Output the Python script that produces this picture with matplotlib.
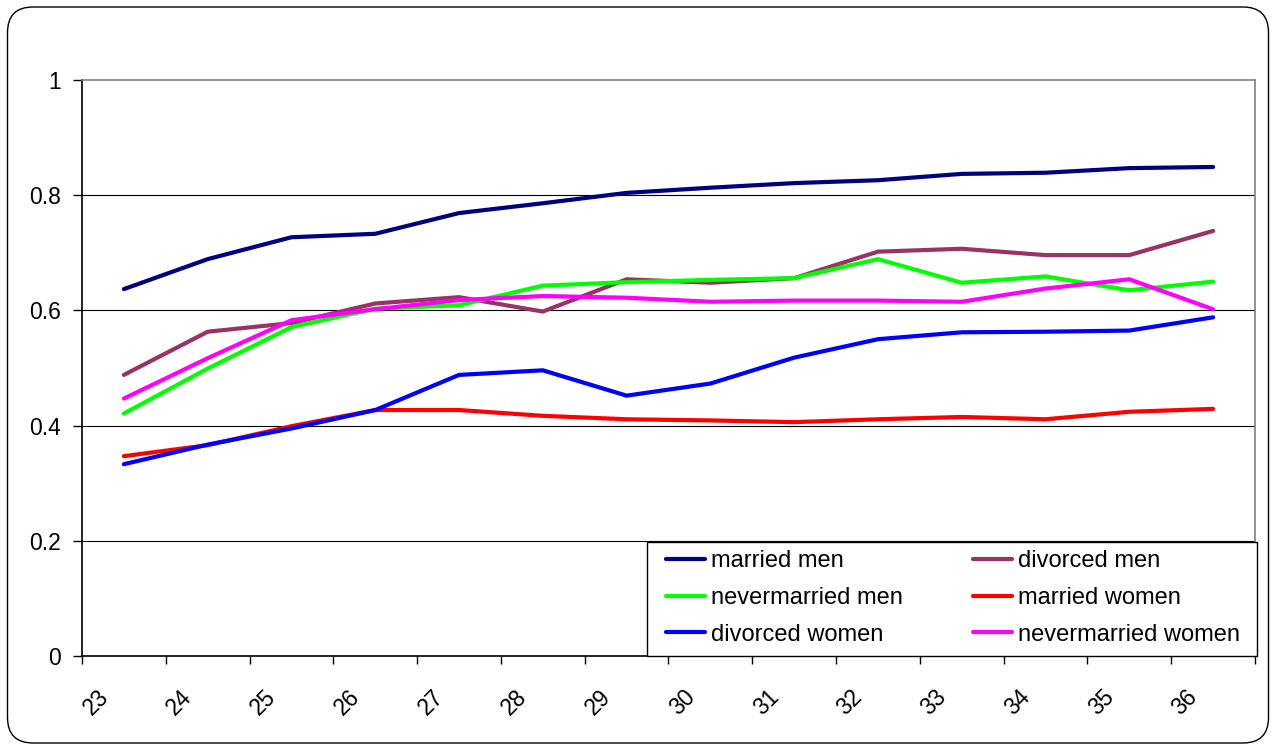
import numpy as np
import matplotlib
matplotlib.use("Agg")
import matplotlib.pyplot as plt
import matplotlib.transforms as mtransforms
from matplotlib.patches import FancyBboxPatch, Rectangle

plt.rcParams['font.family'] = ['Liberation Sans', 'DejaVu Sans']

# Возраст
ages = ['23', '24', '25', '26', '27', '28', '29', '30', '31', '32', '33', '34', '35', '36']

# Ряды данных
married_men = [0.637, 0.689, 0.727, 0.733, 0.769, 0.786, 0.804, 0.813, 0.821, 0.826, 0.837, 0.839, 0.847, 0.849]
divorced_men = [0.488, 0.563, 0.578, 0.612, 0.623, 0.598, 0.654, 0.648, 0.656, 0.702, 0.707, 0.696, 0.696, 0.738]
nevermarried_men = [0.421, 0.499, 0.571, 0.603, 0.609, 0.643, 0.649, 0.653, 0.656, 0.689, 0.648, 0.659, 0.635, 0.650]
married_women = [0.347, 0.366, 0.399, 0.427, 0.427, 0.417, 0.411, 0.409, 0.406, 0.411, 0.415, 0.411, 0.424, 0.429]
divorced_women = [0.333, 0.367, 0.395, 0.427, 0.488, 0.496, 0.452, 0.473, 0.518, 0.550, 0.562, 0.563, 0.565, 0.588]
nevermarried_women = [0.447, 0.517, 0.583, 0.602, 0.618, 0.625, 0.622, 0.615, 0.617, 0.617, 0.615, 0.638, 0.654, 0.602]

series = [
    ('married men', married_men, '#000080'),
    ('divorced men', divorced_men, '#993366'),
    ('nevermarried men', nevermarried_men, '#00FF00'),
    ('married women', married_women, '#FF0000'),
    ('divorced women', divorced_women, '#0000FF'),
    ('nevermarried women', nevermarried_women, '#FF00FF'),
]

W, H = 1279, 746
fig = plt.figure(figsize=(W / 100, H / 100), dpi=100)

# Скруглённая рамка вокруг всей диаграммы
frame = FancyBboxPatch((7.5 / W, 3 / H), 1261 / W, 736 / H,
                       boxstyle="round,pad=0,rounding_size=0.02",
                       transform=fig.transFigure, facecolor='none',
                       edgecolor='black', linewidth=1.0,
                       mutation_aspect=W / H)
fig.patches.append(frame)

ax = fig.add_axes([82 / W, (H - 656) / H, (1255 - 82) / W, (656 - 80) / H])
ax.set_facecolor('white')

x = np.arange(len(ages))
lines = {}
for name, vals, col in series:
    ln, = ax.plot(x, vals, color=col, lw=3, label=name, solid_capstyle='round')
    lines[name] = ln

ax.set_xlim(-0.5, len(ages) - 0.5)
ax.set_ylim(0, 1)

# Сетка
for yv in [0.2, 0.4, 0.6, 0.8]:
    ax.axhline(yv, color='black', lw=0.8, zorder=0.5)
ax.tick_params(axis='y', direction='out', length=6.5, width=1, pad=8.5, labelsize=16.5)
ax.set_yticks([0, 0.2, 0.4, 0.6, 0.8, 1])
ax.set_yticklabels(['0', '0.2', '0.4', '0.6', '0.8', '1'], fontsize=16.5)

# Деления по границам категорий, подписи по центрам
ax.tick_params(axis='x', which='major', direction='out', length=6, width=1)
ax.tick_params(axis='x', which='minor', length=0, pad=21, labelsize=16.5)
ax.set_xticks(np.arange(-0.5, len(ages)), labels=[''] * (len(ages) + 1))
ax.set_xticks(x, minor=True)
ax.set_xticklabels(ages, minor=True, rotation=45, ha='right', va='top', fontsize=16.5)
shift = mtransforms.ScaledTranslation(-0.11, 0, fig.dpi_scale_trans)
for lab in ax.get_xticklabels(minor=True):
    lab.set_transform(lab.get_transform() + shift)

for side in ['left', 'bottom']:
    ax.spines[side].set_color('black')
    ax.spines[side].set_linewidth(1.2)
for side in ['top', 'right']:
    ax.spines[side].set_color('#808080')
    ax.spines[side].set_linewidth(1.2)

# Легенда: две колонки, рамка рисуется отдельно
legbox = Rectangle((647 / W, (H - 656) / H), 610 / W, 114 / H,
                   transform=fig.transFigure, facecolor='white',
                   edgecolor='black', linewidth=1.0, zorder=4)
fig.add_artist(legbox)

order = ['married men', 'nevermarried men', 'divorced women',
         'divorced men', 'married women', 'nevermarried women']
leg = fig.legend([lines[n] for n in order], order,
                 loc='center', ncol=2, mode='expand',
                 bbox_to_anchor=(666 / W, (H - 598) / H - 0.05, 574 / W, 0.1),
                 bbox_transform=fig.transFigure,
                 fontsize=17, frameon=False, borderpad=0, labelspacing=0.62,
                 handlelength=1.65, handletextpad=0.25, borderaxespad=0)
leg.set_zorder(5)

fig.savefig('out.png', dpi=100)
